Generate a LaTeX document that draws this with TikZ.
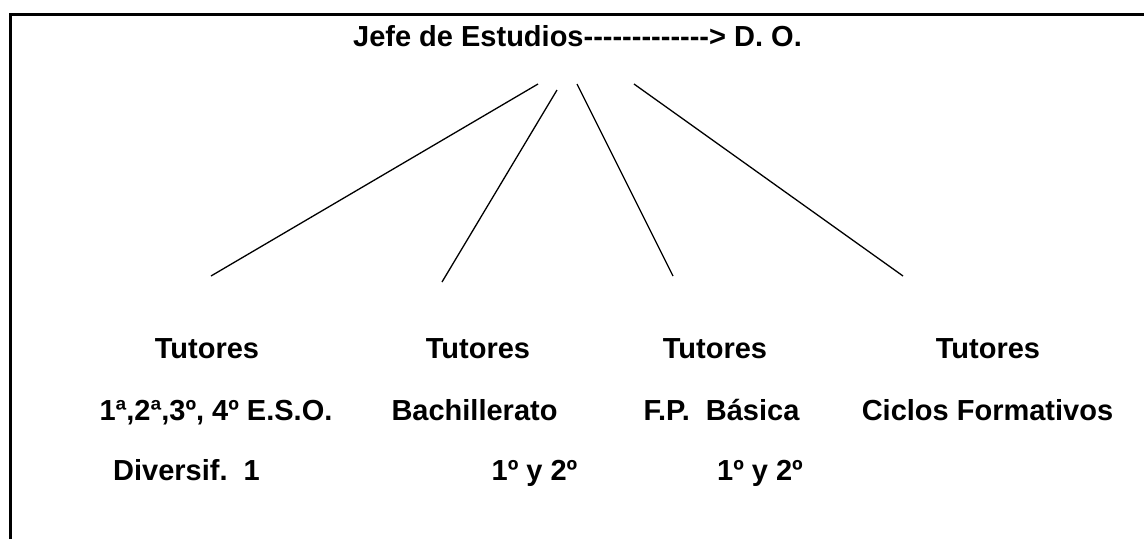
\documentclass[tikz,border=0pt]{standalone}
\usepackage{fontspec}
\setmainfont{Liberation Sans}[Ligatures=TeXOff]
\usepackage{tikz}
\frenchspacing

\begin{document}
\begin{tikzpicture}[x=1pt, y=-1pt, line width=1.3pt,
        every node/.style={inner sep=0pt, anchor=base, font=\bfseries\fontsize{29}{34}\selectfont}]
        \useasboundingbox (0,0) rectangle (1144,539);
        \draw[line width=3pt] (10,539) -- (10,14) -- (1144,14);
        \node[] (jefe) at (577.5,46) {Jefe de Estudios-------------> D. O.};
        \node[] (tut1) at (207,358) {Tutores};
        \node[] (tut2) at (478,358) {Tutores};
        \node[] (tut3) at (715,358) {Tutores};
        \node[] (tut4) at (988,358) {Tutores};
        \node[] (eso) at (216,420) {1ª,2ª,3º, 4º E.S.O.};
        \node[] (bach) at (474.5,420) {Bachillerato};
        \node[] (fpb) at (721.5,420) {F.P.\ \ Básica};
        \node[] (cf) at (987.5,420) {Ciclos Formativos};
        \node[] (div) at (186.5,480) {Diversif.\ \ 1};
        \node[] (bachc) at (534.5,480) {1º y 2º};
        \node[] (fpbc) at (760,480) {1º y 2º};
        \coordinate (j1) at (538,84);
        \coordinate (j2) at (557,90);
        \coordinate (j3) at (577,84);
        \coordinate (j4) at (634,84);
        \coordinate (t1) at (211,276);
        \coordinate (t2) at (442,282);
        \coordinate (t3) at (673,276);
        \coordinate (t4) at (903,276);
        \draw
        (j1) edge[] (t1)
        (j2) edge[] (t2)
        (j3) edge[] (t3)
        (j4) edge[] (t4);
    \end{tikzpicture}
\end{document}
